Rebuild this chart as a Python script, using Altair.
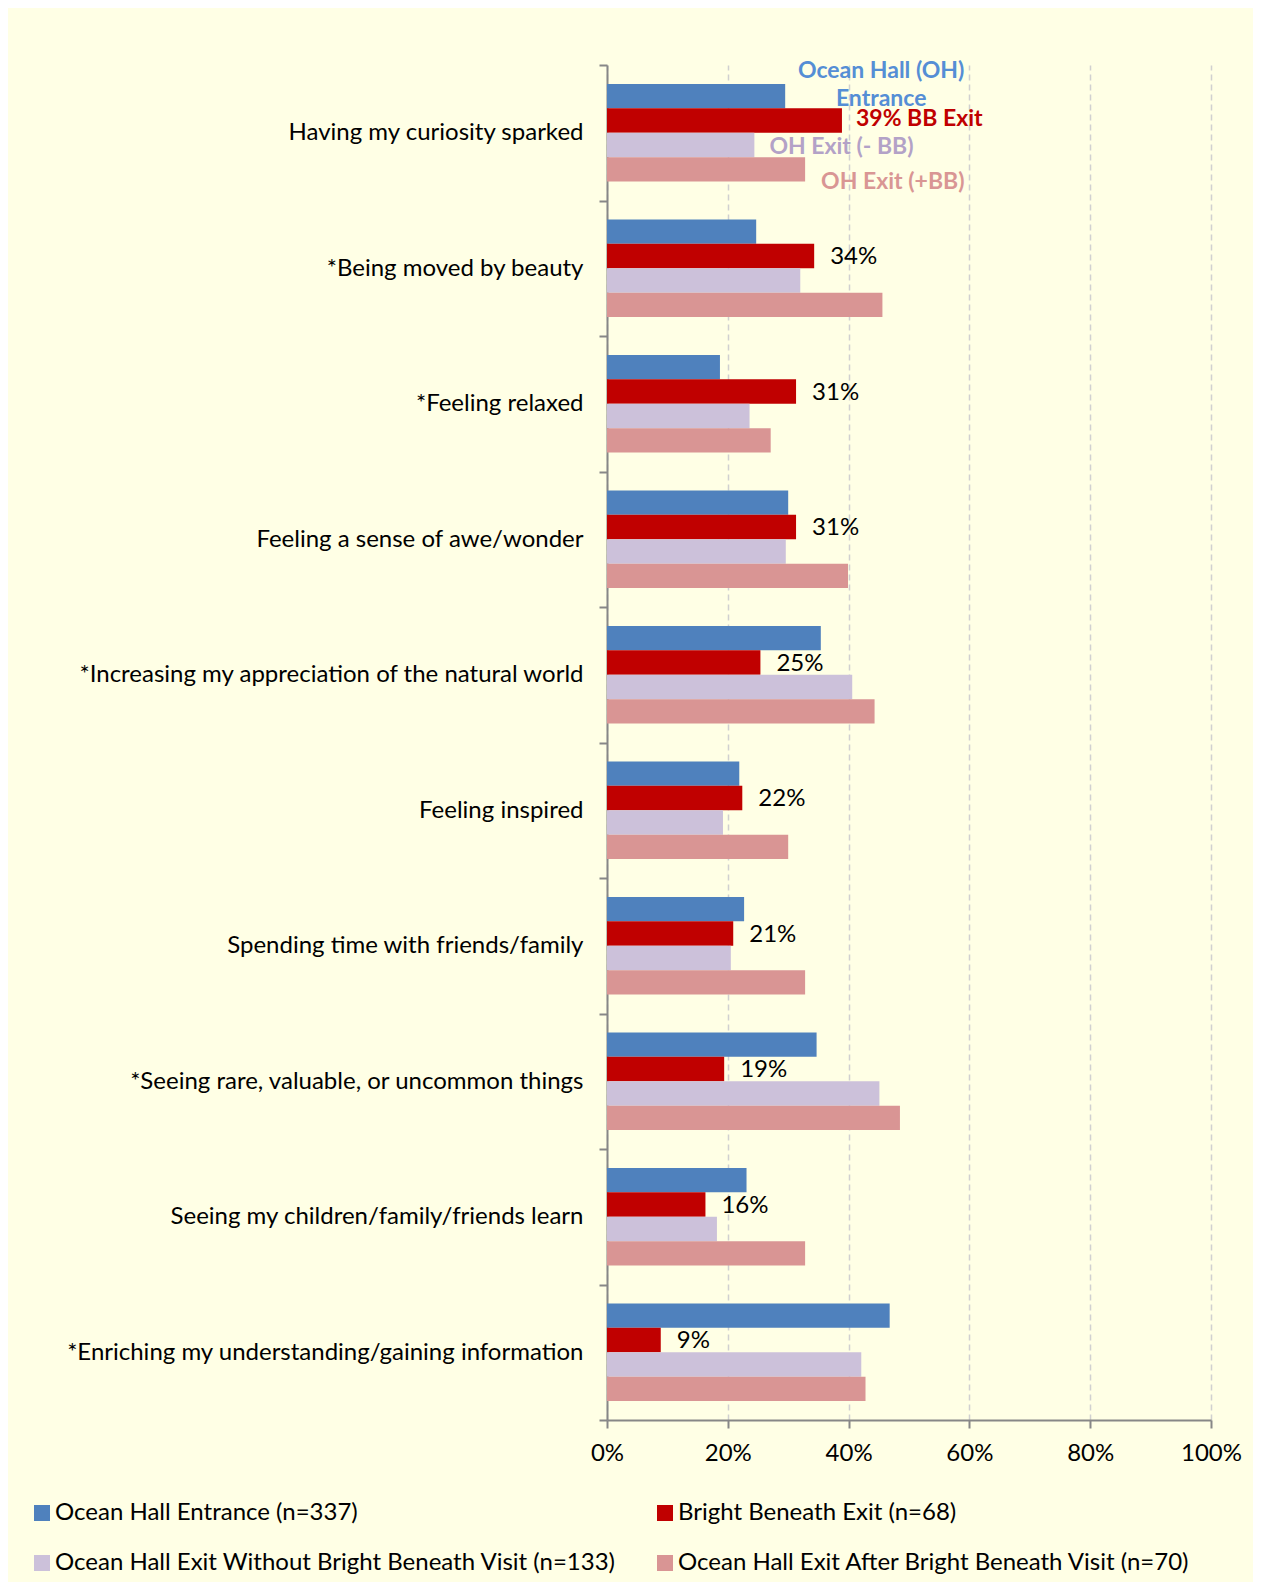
import altair as alt
import pandas as pd

categories = [
    "Having my curiosity sparked",
    "*Being moved by beauty",
    "*Feeling relaxed",
    "Feeling a sense of awe/wonder",
    "*Increasing my appreciation of the natural world",
    "Feeling inspired",
    "Spending time with friends/family",
    "*Seeing rare, valuable, or uncommon things",
    "Seeing my children/family/friends learn",
    "*Enriching my understanding/gaining information",
]

series = [
    "Ocean Hall Entrance (n=337)",
    "Bright Beneath Exit (n=68)",
    "Ocean Hall Exit Without Bright Beneath Visit (n=133)",
    "Ocean Hall Exit After Bright Beneath Visit (n=70)",
]
colors = ["#4F81BD", "#C00000", "#CCC1DA", "#D99594"]

# legend reads row by row in the reference; Vega fills columns first
legend_order = [series[0], series[2], series[1], series[3]]
legend_colors = [colors[0], colors[2], colors[1], colors[3]]

oh_entrance = [29.5, 24.7, 18.7, 30.0, 35.4, 21.9, 22.7, 34.7, 23.1, 46.8]
bb_exit = [38.9, 34.3, 31.3, 31.3, 25.4, 22.4, 20.9, 19.4, 16.3, 8.9]
oh_exit_without_bb = [24.4, 32.0, 23.6, 29.6, 40.6, 19.2, 20.5, 45.1, 18.2, 42.1]
oh_exit_after_bb = [32.8, 45.6, 27.1, 39.9, 44.3, 30.0, 32.8, 48.5, 32.8, 42.8]

x_ticks = [0, 20, 40, 60, 80, 100]

ann_blue_line1 = "Ocean Hall (OH)"
ann_blue_line2 = "Entrance"
ann_red_suffix = "% BB Exit"
ann_lilac = "OH Exit (- BB)"
ann_pink = "OH Exit (+BB)"

rows = []
for i, c in enumerate(categories):
    for s, vals in zip(series, [oh_entrance, bb_exit, oh_exit_without_bb, oh_exit_after_bb]):
        rows.append({"category": c, "series": s, "value": vals[i]})
df = pd.DataFrame(rows)

FONT = "Lato"
FS = 24
AFS = 23
AXIS_COLOR = "#878787"

y_enc = alt.Y(
    "category:N",
    sort=categories,
    title=None,
    scale=alt.Scale(paddingInner=0, paddingOuter=0),
    axis=alt.Axis(
        tickBand="extent",
        ticks=True,
        tickSize=8,
        tickColor=AXIS_COLOR,
        tickWidth=2,
        domainColor=AXIS_COLOR,
        domainWidth=2,
        labelFont=FONT,
        labelFontSize=FS,
        labelColor="black",
        labelPadding=16,
        labelLimit=0,
        grid=False,
    ),
)
yoff_enc = alt.YOffset(
    "series:N", sort=series, scale=alt.Scale(paddingInner=0, paddingOuter=0.778)
)
x_enc = alt.X(
    "value:Q",
    title=None,
    scale=alt.Scale(domain=[0, 100], nice=False),
    axis=alt.Axis(
        values=x_ticks,
        labelExpr="datum.value + '%'",
        labelFlush=False,
        grid=True,
        gridDash=[6, 4],
        gridColor="#D0D0D0",
        gridWidth=1.5,
        domainColor=AXIS_COLOR,
        domainWidth=2,
        tickColor=AXIS_COLOR,
        tickWidth=2,
        tickSize=8,
        labelFont=FONT,
        labelFontSize=FS,
        labelColor="black",
        labelPadding=13,
    ),
)

bars = alt.Chart(df).mark_bar().encode(
    x=x_enc,
    y=y_enc,
    yOffset=yoff_enc,
    color=alt.Color(
        "series:N",
        sort=legend_order,
        scale=alt.Scale(domain=legend_order, range=legend_colors),
        legend=alt.Legend(
            orient="none",
            legendX=-577,
            legendY=1436,
            columns=2,
            columnPadding=36,
            rowPadding=26,
            symbolType="square",
            symbolSize=256,
            symbolStrokeWidth=0,
            labelFont=FONT,
            labelFontSize=FS,
            labelColor="black",
            labelLimit=0,
            labelOffset=1,
            padding=0,
            title=None,
        ),
    ),
)

red_labels = (
    alt.Chart(df)
    .transform_filter(
        (alt.datum.series == series[1]) & (alt.datum.category != categories[0])
    )
    .transform_calculate(label="format(datum.value, '.0f') + '%'")
    .mark_text(align="left", baseline="middle", dx=16, dy=1, font=FONT, fontSize=FS, color="black")
    .encode(x=x_enc, y=y_enc, yOffset=yoff_enc, text="label:N")
)


def first_group(s):
    return alt.Chart(df).transform_filter(
        (alt.datum.series == s) & (alt.datum.category == categories[0])
    )


ann_b1 = first_group(series[0]).mark_text(
    align="center", baseline="middle", dx=96, dy=-25, font=FONT, fontSize=AFS,
    fontWeight="bold", color="#558ED5", text=ann_blue_line1,
).encode(x=x_enc, y=y_enc, yOffset=yoff_enc)

ann_b2 = first_group(series[0]).mark_text(
    align="center", baseline="middle", dx=96, dy=3, font=FONT, fontSize=AFS,
    fontWeight="bold", color="#558ED5", text=ann_blue_line2,
).encode(x=x_enc, y=y_enc, yOffset=yoff_enc)

ann_red = (
    first_group(series[1])
    .transform_calculate(label="format(datum.value, '.0f') + '" + ann_red_suffix + "'")
    .mark_text(
        align="left", baseline="middle", dx=14, dy=-2, font=FONT, fontSize=AFS,
        fontWeight="bold", color="#C00000",
    )
    .encode(x=x_enc, y=y_enc, yOffset=yoff_enc, text="label:N")
)

ann_lilac_t = first_group(series[2]).mark_text(
    align="left", baseline="middle", dx=15, dy=2, font=FONT, fontSize=AFS,
    fontWeight="bold", color="#B3A2C7", text=ann_lilac,
).encode(x=x_enc, y=y_enc, yOffset=yoff_enc)

ann_pink_t = first_group(series[3]).mark_text(
    align="left", baseline="middle", dx=16, dy=13, font=FONT, fontSize=AFS,
    fontWeight="bold", color="#D99694", text=ann_pink,
).encode(x=x_enc, y=y_enc, yOffset=yoff_enc)

chart = (
    alt.layer(bars, red_labels, ann_b1, ann_b2, ann_red, ann_lilac_t, ann_pink_t)
    .properties(
        width=604,
        height=1355,
        padding={"left": 599, "top": 57, "right": 42, "bottom": 162},
        autosize=alt.AutoSizeParams(type="none"),
        background="#FFFFE5",
    )
    .configure_view(stroke=None)
)

chart.save("out.html", embed_options={"renderer": "svg", "actions": False})
